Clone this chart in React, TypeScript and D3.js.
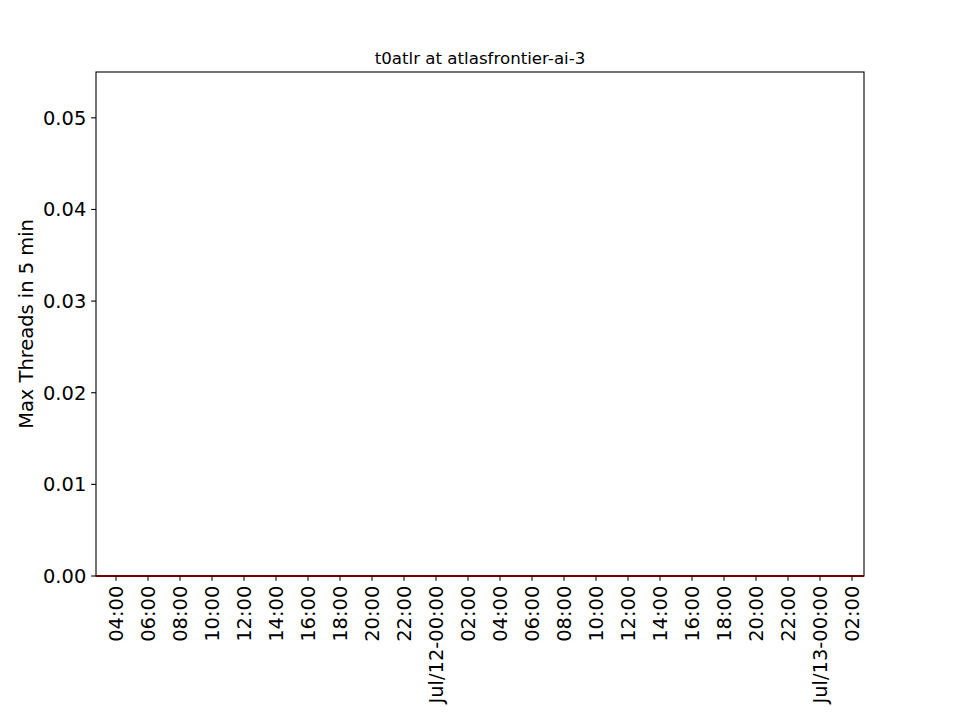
import React, { useEffect } from 'react';
import * as d3 from 'd3';

// sampled times (all readings are zero in the reference)
const sampleTimes = [
  '2023-07-11T02:45', '2023-07-11T08:00', '2023-07-11T14:00', '2023-07-11T20:00',
  '2023-07-12T02:00', '2023-07-12T08:00', '2023-07-12T14:00', '2023-07-12T20:00',
  '2023-07-13T02:45',
];
const maxThreads = [0, 0, 0, 0, 0, 0, 0, 0, 0];
const yTicks = [0, 0.01, 0.02, 0.03, 0.04, 0.05];
const yMax = 0.055;

const width = 960;
const height = 720;
const margin = { top: 72, right: 96, bottom: 144, left: 96 };
const font = '"DejaVu Sans", sans-serif';

const App: React.FC = () => {
  useEffect(() => {
    document.body.style.margin = '0';
  }, []);

  const parse = d3.timeParse('%Y-%m-%dT%H:%M');
  const times = sampleTimes.map(t => parse(t) as Date);
  const data = times.map((t, i) => ({ t, v: maxThreads[i] }));

  const x = d3.scaleTime()
    .domain([times[0], times[times.length - 1]])
    .range([margin.left, width - margin.right]);
  const y = d3.scaleLinear()
    .domain([0, yMax])
    .range([height - margin.bottom, margin.top]);

  const xTicks = d3.timeHour.every(2)!.range(parse('2023-07-11T04:00') as Date, x.domain()[1]);
  const fmt = (d: Date) => d.getHours() === 0 ? d3.timeFormat('%b/%d-%H:%M')(d) : d3.timeFormat('%H:%M')(d);

  const line = d3.line<{ t: Date; v: number }>()
    .x(d => x(d.t))
    .y(d => y(d.v));

  const x0 = margin.left, x1 = width - margin.right;
  const y0 = height - margin.bottom, y1 = margin.top;
  const tickLen = 4.86;

  return (
    <svg width={width} height={height} style={{ display: 'block', background: '#fff' }} fontFamily={font}>
      <rect x={0} y={0} width={width} height={height} fill="#fff" />
      <path d={line(data) ?? ''} fill="none" stroke="#ff0000" strokeWidth={2} />
      <rect x={x0} y={y1} width={x1 - x0} height={y0 - y1} fill="none" stroke="#000" strokeWidth={1.1} />

      {yTicks.map(t => (
        <g key={t} transform={`translate(${x0},${y(t)})`}>
          <line x1={-tickLen} x2={0} stroke="#000" strokeWidth={1.1} />
          <text x={-tickLen - 4.86} dy="0.36em" textAnchor="end" fontSize={19.44} fill="#000">
            {t.toFixed(2)}
          </text>
        </g>
      ))}

      {xTicks.map(t => (
        <g key={t.getTime()} transform={`translate(${x(t)},${y0})`}>
          <line y1={0} y2={tickLen} stroke="#000" strokeWidth={1.1} />
          <text transform={`translate(0,${tickLen + 4.86}) rotate(-90)`} dy="0.36em" textAnchor="end" fontSize={19.44} fill="#000">
            {fmt(t)}
          </text>
        </g>
      ))}

      <text
        transform={`translate(33,${(y0 + y1) / 2}) rotate(-90)`}
        textAnchor="middle"
        fontSize={19.44}
        fill="#000"
      >
        Max Threads in 5 min
      </text>

      <text x={(x0 + x1) / 2} y={y1 - 8.3} textAnchor="middle" fontSize={16.67} fill="#000">
        t0atlr at atlasfrontier-ai-3
      </text>
    </svg>
  );
};

export default App;
